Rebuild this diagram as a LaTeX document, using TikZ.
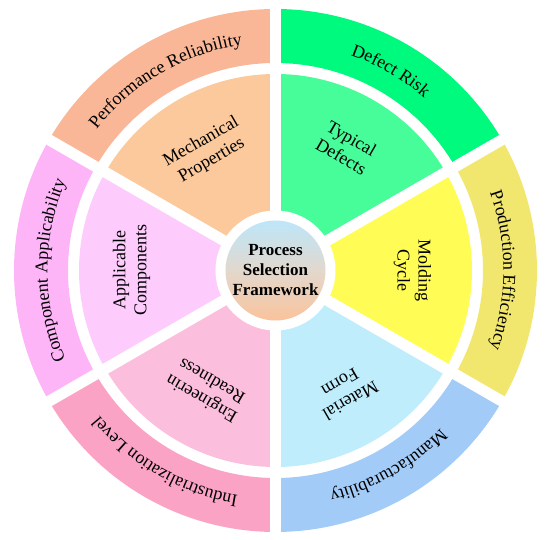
\documentclass[tikz,border=0pt]{standalone}
\usepackage{fontspec}
\setmainfont{Liberation Serif}
\usetikzlibrary{decorations.text}
\definecolor{perfc}{HTML}{F9B797}
\definecolor{mechc}{HTML}{FBC99B}
\definecolor{riskc}{HTML}{00FA7D}
\definecolor{defc}{HTML}{47FD9A}
\definecolor{prodc}{HTML}{F2E76E}
\definecolor{moldc}{HTML}{FFFD55}
\definecolor{manuc}{HTML}{A3CBF8}
\definecolor{matc}{HTML}{BFEDFC}
\definecolor{indc}{HTML}{FBA3C5}
\definecolor{engc}{HTML}{FCBEDD}
\definecolor{compc}{HTML}{FDB5F8}
\definecolor{appc}{HTML}{FECBFD}
\definecolor{ctop}{HTML}{BDE6F9}
\definecolor{cmid}{HTML}{E2D8CE}
\definecolor{cbot}{HTML}{FAC39B}
\tikzset{
  innerlabel/.style={align=center, font=\fontsize{18}{21}\selectfont, inner sep=0pt},
  gapline/.style={white, line width=11pt},
}
\begin{document}
\begin{tikzpicture}[x=1pt,y=1pt]
\useasboundingbox (-275.5,-269.5) rectangle (274.5,270.5);
\def\Ri{196.5}
\def\Ro{207.5}
\def\Rout{261.5}
\def\Rt{228}
% sectors
\foreach \m/\ci/\co in {120/mechc/perfc, 60/defc/riskc, 0/moldc/prodc, -60/matc/manuc, -120/engc/indc, 180/appc/compc}{
  \fill[\ci] (0,0) -- ({\m+30}:\Ri) arc[start angle={\m+30}, end angle={\m-30}, radius=\Ri] -- cycle;
  \fill[\co] ({\m+30}:\Rout) arc[start angle={\m+30}, end angle={\m-30}, radius=\Rout]
     -- ({\m-30}:\Ro) arc[start angle={\m-30}, end angle={\m+30}, radius=\Ro] -- cycle;
}
% gaps
\foreach \a in {30,90,150,210,270,330}{
  \draw[gapline] (0,0) -- (\a:270);
}
\fill[white] (0,0) circle (60);
% centre
\node[circle, minimum size=100pt, inner sep=0pt, top color=ctop, bottom color=cbot, middle color=cmid, align=center,
  font=\fontsize{17}{20}\selectfont\bfseries] (centre) at (0,0) {Process\\Selection\\Framework};
% inner labels
\node[innerlabel, rotate=30] (mech) at (120:138) {Mechanical\\Properties};
\node[innerlabel, rotate=-30] (def) at (60:142) {Typical\\Defects};
\node[innerlabel, rotate=-90] (mold) at (0:137) {Molding\\Cycle};
\node[innerlabel, rotate=-150] (mat) at (-60:140) {Material\\Form};
\node[innerlabel, rotate=150] (eng) at (-120:138) {Engineerin\\Readiness};
\node[innerlabel, rotate=90] (app) at (180:144) {Applicable\\Components};
% outer labels
\foreach \m/\t in {120/Performance Reliability, 60/Defect Risk, 0/Production Efficiency, -60/Manufacturability, -120/Industrialization Level, 180/Component Applicability}{
  \path[decorate, decoration={text along path, text align=center,
     text={|\fontsize{18}{20}\selectfont|\t}}]
     ({\m+30}:\Rt) arc[start angle={\m+30}, end angle={\m-30}, radius=\Rt];
}
\end{tikzpicture}
\end{document}
